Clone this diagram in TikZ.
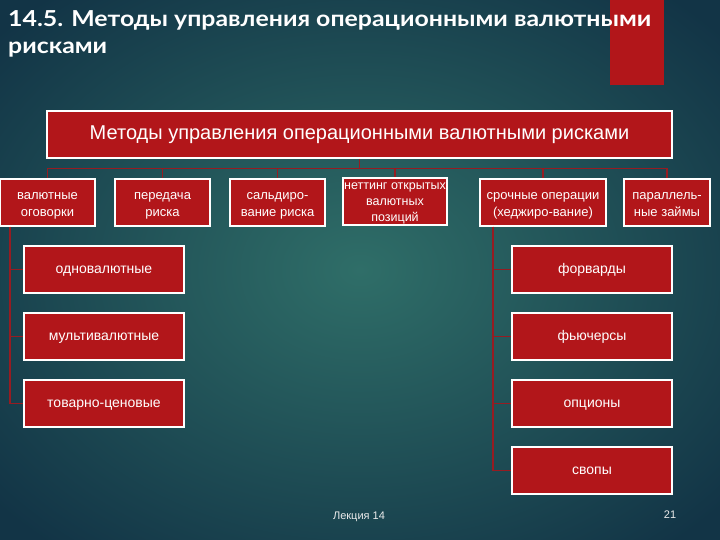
\documentclass[tikz,border=0pt]{standalone}
\usepackage{fontspec}
\setmainfont{Liberation Sans}
\newfontfamily\titlefont[FakeStretch=1.13]{Lato}
\usepackage{tikz}
\usetikzlibrary{positioning, calc, backgrounds}
\definecolor{bgin}{RGB}{47,110,104}
\definecolor{bgout}{RGB}{18,52,70}
\definecolor{boxred}{RGB}{178,22,26}
\definecolor{linkred}{RGB}{150,28,34}
\tikzset{
	redbox/.style={draw=white, line width=1.6pt, fill=boxred, text=white,
		align=center, inner sep=1pt, minimum height=47pt},
	topbox/.style={redbox, minimum width=95pt, font=\fontsize{13}{17}\selectfont,
		text height=27pt, text depth=0pt}
}
\tikzset{
	rowbox/.style={redbox, minimum width=160pt, font=\fontsize{14}{16}\selectfont,
		text height=10pt, text depth=3pt},
	linkline/.style={draw=linkred, line width=1.2pt}
}
\begin{document}
\begin{tikzpicture}[x=1pt, y=-1pt]
      \useasboundingbox (0,0) rectangle (720,540);
      \begin{scope}[on background layer]
      \shade[inner color=bgin, outer color=bgout] (-120,-90) rectangle (840,630);
      \end{scope}
      \fill[boxred] (610,0) rectangle (664,85);
      \node[anchor=north west, text=white, align=left, inner sep=0pt,
        font=\titlefont\bfseries\fontsize{22}{27}\selectfont] (title) at (8,10)
        {14.5. Методы управления операционными валютными\\рисками};
      % главный блок
      \node[redbox, minimum width=625pt, font=\fontsize{20}{22}\selectfont] (main) at (359.5,134.5)
        {Методы управления операционными валютными рисками};
      \node[topbox] (b1) at (47.5,202.5) {валютные\\оговорки};
      \node[topbox] (b2) at (162.5,202.5) {передача\\риска};
      \node[topbox] (b3) at (277.5,202.5) {сальдиро-\\вание риска};
      \node[topbox, minimum width=104pt, font=\fontsize{12.5}{16}\selectfont, text height=40pt]
        (b4) at (395,201.5) {неттинг открытых\\валютных\\позиций};
      \node[topbox, minimum width=126pt] (b5) at (543,202.5) {срочные операции\\(хеджиро-вание)};
      \node[topbox, minimum width=86pt] (b6) at (667,202.5) {параллель-\\ные займы};
      % оговорки
      \node[rowbox] (c1) at (104,269.5) {одновалютные};
      \node[rowbox] (c2) at (104,336.5) {мультивалютные};
      \node[rowbox] (c3) at (104,403.5) {товарно-ценовые};
      % срочные операции
      \node[rowbox] (d1) at (592,269.5) {форварды};
      \node[rowbox] (d2) at (592,336.5) {фьючерсы};
      \node[rowbox] (d3) at (592,403.5) {опционы};
      \node[rowbox] (d4) at (592,470.5) {свопы};
      \node[text=white!85!gray, font=\fontsize{11}{13}\selectfont] (lect) at (359,517) {Лекция 14};
      \node[text=white!85!gray, font=\fontsize{11}{13}\selectfont] (page) at (670,515) {21};
      \coordinate (bus) at ($(main.south)+(0,10)$);
      \draw[linkline] (main.south) -- (bus);
      \foreach \b in {b1,b2,b3,b4,b5,b6}
        \draw[linkline] (bus) -| (\b.north);
      \coordinate (ltop) at (b1.south -| 10,0);
      \foreach \c in {c1,c2,c3}
        \draw[linkline] (ltop) |- (\c.west);
      \coordinate (rtop) at (b5.south -| 493,0);
      \foreach \d in {d1,d2,d3,d4}
        \draw[linkline] (rtop) |- (\d.west);
    \end{tikzpicture}
\end{document}
